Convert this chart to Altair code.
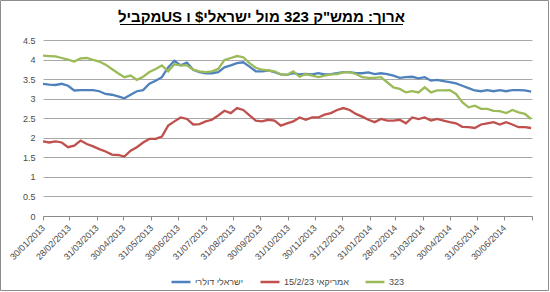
import altair as alt
import pandas as pd

# weekly sampling dates (x axis)
dates = pd.date_range("2013-01-30", periods=79, freq="7D").strftime("%Y-%m-%d").tolist()

series_names = ["ישראלי דולרי", "אמריקאי 15/2/23", "323"]
series_colors = ["#4f81bd", "#c0504d", "#9bbb59"]

blue = [3.38, 3.36, 3.35, 3.38, 3.33, 3.21, 3.22, 3.22, 3.22, 3.19,
        3.12, 3.10, 3.06, 3.01, 3.10, 3.19, 3.22, 3.38, 3.46, 3.55,
        3.80, 3.97, 3.85, 3.92, 3.74, 3.68, 3.65, 3.65, 3.68, 3.80,
        3.85, 3.91, 3.93, 3.82, 3.70, 3.70, 3.72, 3.68, 3.62, 3.61,
        3.65, 3.62, 3.63, 3.62, 3.65, 3.62, 3.63, 3.65, 3.68, 3.68,
        3.65, 3.65, 3.67, 3.63, 3.65, 3.63, 3.59, 3.53, 3.55, 3.56,
        3.52, 3.55, 3.46, 3.48, 3.45, 3.42, 3.39, 3.33, 3.27, 3.21,
        3.19, 3.22, 3.19, 3.22, 3.19, 3.22, 3.22, 3.21, 3.18]

red = [1.91, 1.88, 1.91, 1.88, 1.76, 1.80, 1.93, 1.84, 1.78, 1.71,
       1.65, 1.57, 1.56, 1.52, 1.67, 1.76, 1.88, 1.97, 1.97, 2.03,
       2.31, 2.42, 2.52, 2.48, 2.34, 2.35, 2.42, 2.46, 2.57, 2.69,
       2.63, 2.76, 2.71, 2.57, 2.44, 2.42, 2.46, 2.44, 2.31, 2.37,
       2.42, 2.52, 2.46, 2.52, 2.52, 2.59, 2.63, 2.71, 2.76, 2.71,
       2.61, 2.54, 2.46, 2.40, 2.48, 2.44, 2.44, 2.46, 2.37, 2.52,
       2.48, 2.52, 2.44, 2.48, 2.44, 2.40, 2.37, 2.28, 2.27, 2.25,
       2.34, 2.37, 2.40, 2.34, 2.40, 2.34, 2.27, 2.27, 2.25]

green = [4.10, 4.09, 4.08, 4.04, 4.00, 3.95, 4.03, 4.04, 3.99, 3.95,
         3.87, 3.76, 3.65, 3.55, 3.59, 3.48, 3.56, 3.68, 3.76, 3.85,
         3.70, 3.88, 3.85, 3.85, 3.74, 3.70, 3.68, 3.70, 3.76, 3.99,
         4.04, 4.09, 4.06, 3.91, 3.79, 3.74, 3.72, 3.70, 3.62, 3.61,
         3.70, 3.56, 3.63, 3.59, 3.55, 3.59, 3.62, 3.63, 3.67, 3.68,
         3.63, 3.55, 3.53, 3.53, 3.55, 3.42, 3.29, 3.25, 3.16, 3.19,
         3.16, 3.29, 3.16, 3.21, 3.21, 3.22, 3.12, 2.91, 2.78, 2.82,
         2.74, 2.74, 2.69, 2.68, 2.63, 2.71, 2.65, 2.61, 2.48]

y_ticks = [0, 0.5, 1, 1.5, 2, 2.5, 3, 3.5, 4, 4.5]
x_tick_dates = [(2013, 1, 30), (2013, 2, 28), (2013, 3, 31), (2013, 4, 30), (2013, 5, 31),
                (2013, 6, 30), (2013, 7, 31), (2013, 8, 31), (2013, 9, 30), (2013, 10, 31),
                (2013, 11, 30), (2013, 12, 31), (2014, 1, 31), (2014, 2, 28), (2014, 3, 31),
                (2014, 4, 30), (2014, 5, 31), (2014, 6, 30), (2014, 7, 31)]

title_text = "\u202bארוך: ממש\"ק 323 מול ישראלי$ ו USמקביל\u202c"

rows = []
for name, vals in zip(series_names, [blue, red, green]):
    for d, v in zip(dates, vals):
        rows.append({"date": d, "series": name, "value": v})
df = pd.DataFrame(rows)

FONT = "Liberation Sans"
TXT = "#4a4a4a"

x_enc = alt.X(
    "date:T",
    scale=alt.Scale(type="utc",
                    domain=[alt.DateTime(year=2013, month=1, date=30, utc=True),
                            alt.DateTime(year=2014, month=7, date=31, utc=True)]),
    axis=alt.Axis(
        values=[alt.DateTime(year=y, month=m, date=d, utc=True) for (y, m, d) in x_tick_dates],
        labelExpr="datum.index == 1 ? '' : utcFormat(datum.value, '%d/%m/%Y')",
        labelAngle=315, labelAlign="right", labelBaseline="middle",
        labelFont=FONT, labelFontSize=9, labelColor=TXT,
        labelPadding=6, tickSize=4, tickColor="#8a8a8a",
        domainColor="#8a8a8a", grid=False, title=None, labelOverlap=False,
    ),
)

y_enc = alt.Y(
    "value:Q",
    scale=alt.Scale(domain=[0, 4.5], nice=False, zero=True),
    axis=alt.Axis(values=y_ticks, format="~g", labelFont=FONT, labelFontSize=9,
                  labelColor=TXT, labelPadding=8, domain=False, ticks=False,
                  grid=True, gridColor="#a8a8a8", gridWidth=1, title=None),
)

lines = alt.Chart(df).mark_line(strokeWidth=2.3).encode(
    x=x_enc,
    y=y_enc,
    color=alt.Color(
        "series:N",
        scale=alt.Scale(domain=series_names, range=series_colors),
        legend=alt.Legend(
            title=None, orient="none", direction="horizontal",
            legendX=127, legendY=231,
            symbolType="stroke", symbolSize=361, symbolStrokeWidth=2.5,
            labelFont=FONT, labelFontSize=9, labelColor=TXT,
            labelOffset=3, columnPadding=11, padding=0,
        ),
    ),
    detail="series:N",
)

title_df = pd.DataFrame({"t": [title_text]})
title_mark = alt.Chart(title_df).mark_text(
    font=FONT, fontSize=15, fontWeight="bold", color="#000000",
    align="center", baseline="alphabetic",
).encode(text="t:N", x=alt.value(218.5), y=alt.value(-18))

underline = alt.Chart(title_df).mark_rule(color="#000000", strokeWidth=1).encode(
    x=alt.value(77), x2=alt.value(360), y=alt.value(-15.5))

border = alt.Chart(title_df).mark_rect(fill=None, stroke="#8c8c8c", strokeWidth=1).encode(
    x=alt.value(-42.5), x2=alt.value(505.5), y=alt.value(-39.5), y2=alt.value(250.5))

chart = alt.layer(border, lines, title_mark, underline).properties(
    width=489, height=176,
    autosize=alt.AutoSizeParams(type="none"),
    padding={"left": 43, "top": 40, "right": 18, "bottom": 76},
    background="white",
).configure_view(stroke=None)

chart.save("out.html", embed_options={"renderer": "svg", "actions": False})
